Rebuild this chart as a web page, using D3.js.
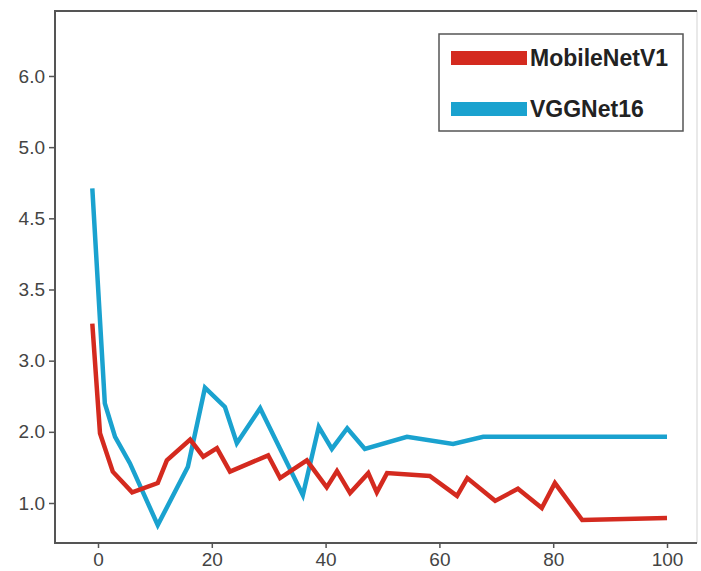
<!DOCTYPE html>
<html>
<head>
<meta charset="utf-8">
<script src="https://cdn.jsdelivr.net/npm/d3@7"></script>
<style>
  body { margin: 0; background: #fff; }
  .axis text { font-family: "Liberation Sans", Arial, sans-serif; font-size: 19px; fill: #444; }
  .axis line { stroke: #555; stroke-width: 1.5; }
  .legend text { font-family: "Liberation Sans", Arial, sans-serif; font-size: 23px; font-weight: bold; fill: #222; }
</style>
</head>
<body>
<div class="chart"></div>
<script>
var seriesNames = ["MobileNetV1", "VGGNet16"],
    colors = ["#d42a1f", "#1aa2cf"];

var xTicks = [0, 20, 40, 60, 80, 100],
    yTicks = [1, 2, 3, 3.5, 4.5, 5, 6],
    yTickLabels = ["1.0", "2.0", "3.0", "3.5", "4.5", "5.0", "6.0"];

var mobilenet = [
  [-1, 3.26], [0.35, 1.98], [2.6, 1.44], [6, 1.15], [10.5, 1.28], [12.1, 1.6],
  [16.2, 1.89], [18.5, 1.65], [20.9, 1.77], [23.2, 1.44], [29.9, 1.67], [32, 1.35],
  [36.7, 1.6], [40.2, 1.22], [42, 1.45], [44.3, 1.14], [47.5, 1.42], [49, 1.15],
  [50.8, 1.42], [58.3, 1.38], [63.1, 1.1], [64.9, 1.35], [69.8, 1.03], [73.8, 1.2],
  [78, 0.93], [80.3, 1.28], [85.1, 0.76], [100, 0.79]
];

var vggnet = [
  [-1, 4.71], [1.2, 2.4], [3, 1.93], [5.6, 1.56], [10.5, 0.69], [15.8, 1.51],
  [18.8, 2.62], [22.3, 2.35], [24.4, 1.84], [28.5, 2.33], [36, 1.11], [38.8, 2.07],
  [41.1, 1.76], [43.8, 2.05], [46.9, 1.76], [54.3, 1.93], [62.4, 1.83], [67.7, 1.93],
  [100, 1.93]
];

var w = 701,
    h = 571,
    fl = 55, ft = 11, fr = 697, fb = 543;

var x = d3.scaleLinear().domain([0, 100]).range([98, 667]),
    // the printed tick labels are uneven but sit at even spacing
    y = d3.scaleLinear().domain(yTicks).range(yTicks.map(function(d, i) { return 503 - i * 71.17; }));

var svg = d3.select(".chart").append("svg")
    .attr("width", w)
    .attr("height", h);

// frame
svg.append("line").attr("x1", fr).attr("x2", fr).attr("y1", ft).attr("y2", fb)
    .attr("stroke", "#e2e2e2").attr("stroke-width", 1.5);
svg.append("path")
    .attr("d", "M" + fr + "," + ft + "H" + fl + "V" + fb + "H" + fr)
    .attr("fill", "none")
    .attr("stroke", "#555")
    .attr("stroke-width", 2);

svg.append("g")
    .attr("class", "axis")
    .attr("transform", "translate(0," + fb + ")")
    .call(d3.axisBottom(x).tickValues(xTicks).tickSize(5).tickPadding(4))
    .call(function(g) { g.select(".domain").remove(); })
    .selectAll("text").attr("dy", "0.75em");

svg.append("g")
    .attr("class", "axis")
    .attr("transform", "translate(" + fl + ",0)")
    .call(d3.axisLeft(y).tickValues(yTicks).tickSize(6).tickPadding(4)
      .tickFormat(function(d, i) { return yTickLabels[i]; }))
    .call(function(g) { g.select(".domain").remove(); });

var line = d3.line()
    .x(function(d) { return x(d[0]); })
    .y(function(d) { return y(d[1]); });

[vggnet, mobilenet].forEach(function(s, i) {
  svg.append("path")
      .datum(s)
      .attr("fill", "none")
      .attr("stroke", colors[1 - i])
      .attr("stroke-width", 4.5)
      .attr("stroke-linejoin", "miter")
      .attr("d", line);
});

// legend
var lg = svg.append("g").attr("class", "legend");
lg.append("rect")
    .attr("x", 439).attr("y", 34)
    .attr("width", 244).attr("height", 97)
    .attr("fill", "#fff")
    .attr("stroke", "#555")
    .attr("stroke-width", 1.5);

seriesNames.forEach(function(name, i) {
  var cy = 58 + i * 51;
  lg.append("rect")
      .attr("x", 451).attr("y", cy - 7)
      .attr("width", 76).attr("height", 14)
      .attr("fill", colors[i]);
  lg.append("text")
      .attr("x", 530).attr("y", cy)
      .attr("dy", "0.35em")
      .text(name);
});
</script>
</body>
</html>
